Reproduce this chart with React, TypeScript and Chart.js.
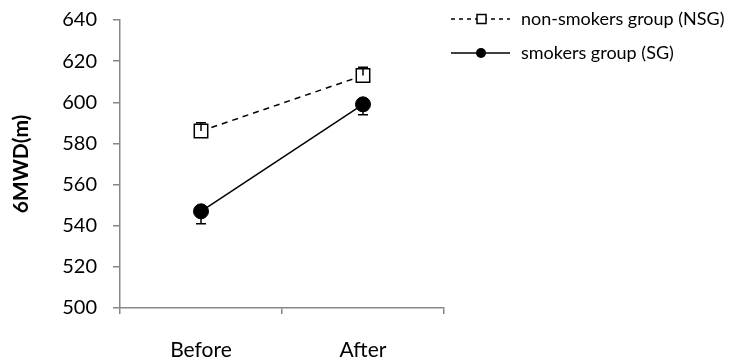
import { useEffect, useRef } from "react";
import { Chart, registerables } from "chart.js";

Chart.register(...registerables);

const categories = ["Before", "After"];
const nsgValues = [586, 613];
const nsgErrorUp = [4, 4];
const sgValues = [547, 599];
const sgErrorDown = [6, 5];
const yMin = 500;
const yMax = 640;
const yStep = 20;
const seriesLabels = ["non-smokers group (NSG)", "smokers group (SG)"];
const yTitle = "6MWD(m)";

const FONT = "Lato, 'Open Sans', sans-serif";
const AXIS = "#878787";

const errorBarPlugin = {
  id: "errorBars",
  afterDatasetsDraw(chart: any) {
    const ctx = chart.ctx;
    const ys = chart.scales.y;
    chart.data.datasets.forEach((ds: any, di: number) => {
      const meta = chart.getDatasetMeta(di);
      meta.data.forEach((pt: any, i: number) => {
        const v = ds.data[i];
        const errs: number[] = [];
        if (ds.errorUp) errs.push(ds.errorUp[i]);
        if (ds.errorDown) errs.push(-ds.errorDown[i]);
        ctx.save();
        ctx.strokeStyle = "#000";
        ctx.lineWidth = 1.5;
        ctx.setLineDash([]);
        ctx.beginPath();
        errs.forEach((e) => {
          const ey = ys.getPixelForValue(v + e);
          ctx.moveTo(pt.x, pt.y);
          ctx.lineTo(pt.x, ey);
          ctx.moveTo(pt.x - 5, ey);
          ctx.lineTo(pt.x + 5, ey);
        });
        ctx.stroke();
        ctx.restore();
      });
    });
  },
};

const legendPlugin = {
  id: "customLegend",
  afterDraw(chart: any) {
    const ctx = chart.ctx;
    const rows = [19, 53];
    chart.data.datasets.forEach((ds: any, di: number) => {
      const y = rows[di];
      ctx.save();
      ctx.strokeStyle = "#000";
      ctx.lineWidth = 1.5;
      ctx.setLineDash(di === 0 ? [4, 4] : []);
      ctx.beginPath();
      ctx.moveTo(451, y);
      ctx.lineTo(510, y);
      ctx.stroke();
      ctx.setLineDash([]);
      if (di === 0) {
        ctx.fillStyle = "#fff";
        ctx.fillRect(477, y - 4.5, 9, 9);
        ctx.strokeRect(477, y - 4.5, 9, 9);
      } else {
        ctx.fillStyle = "#000";
        ctx.beginPath();
        ctx.arc(481, y, 5, 0, Math.PI * 2);
        ctx.fill();
      }
      ctx.fillStyle = "#000";
      ctx.font = `18px ${FONT}`;
      ctx.textBaseline = "middle";
      ctx.textAlign = "left";
      ctx.fillText(ds.label, 521, y);
      ctx.restore();
    });
  },
};

export default function App() {
  const ref = useRef<HTMLCanvasElement>(null);
  useEffect(() => {
    if (!ref.current) return;
    const chart = new Chart(ref.current, {
      type: "line",
      data: {
        labels: categories,
        datasets: [
          {
            label: seriesLabels[0],
            data: nsgValues,
            errorUp: nsgErrorUp,
            borderColor: "#000",
            borderWidth: 1.5,
            borderDash: [6, 5],
            pointStyle: "rect",
            pointRadius: 9.5,
            pointBackgroundColor: "#fff",
            pointBorderColor: "#000",
            pointBorderWidth: 1.5,
          } as any,
          {
            label: seriesLabels[1],
            data: sgValues,
            errorDown: sgErrorDown,
            borderColor: "#000",
            borderWidth: 1.5,
            pointStyle: "circle",
            pointRadius: 7.5,
            pointBackgroundColor: "#000",
            pointBorderColor: "#000",
            pointBorderWidth: 1,
          } as any,
        ],
      },
      options: {
        animation: false,
        responsive: true,
        maintainAspectRatio: false,
        layout: { padding: { left: 0, right: 288, top: 20, bottom: 0 } },
        plugins: { legend: { display: false }, tooltip: { enabled: false } },
        scales: {
          x: {
            offset: true,
            grid: { offset: true, drawOnChartArea: false, color: AXIS, tickLength: 6, lineWidth: 1.5 },
            border: { color: AXIS, width: 1.5 },
            ticks: { color: "#000", font: { family: FONT, size: 21 }, padding: 24 },
            afterFit: (s: any) => {
              s.height = 53;
              s.paddingLeft = 0;
              s.paddingRight = 0;
            },
          },
          y: {
            min: yMin,
            max: yMax,
            ticks: { stepSize: yStep, color: "#000", font: { family: FONT, size: 20 }, padding: 16 },
            grid: { drawOnChartArea: false, color: AXIS, tickLength: 7, lineWidth: 1.5 },
            border: { color: AXIS, width: 1.5 },
            title: {
              display: true,
              text: yTitle,
              color: "#000",
              font: { family: FONT, size: 21, weight: "bold" },
              padding: { top: 9, bottom: 0 },
            },
            afterFit: (s: any) => {
              s.width = 120;
              s.paddingTop = 0;
              s.paddingBottom = 0;
            },
          },
        },
      },
      plugins: [errorBarPlugin, legendPlugin],
    });
    return () => chart.destroy();
  }, []);
  return (
    <div style={{ position: "fixed", left: 0, top: 0, width: 732, height: 361, background: "#fff" }}>
      <canvas ref={ref} />
    </div>
  );
}
